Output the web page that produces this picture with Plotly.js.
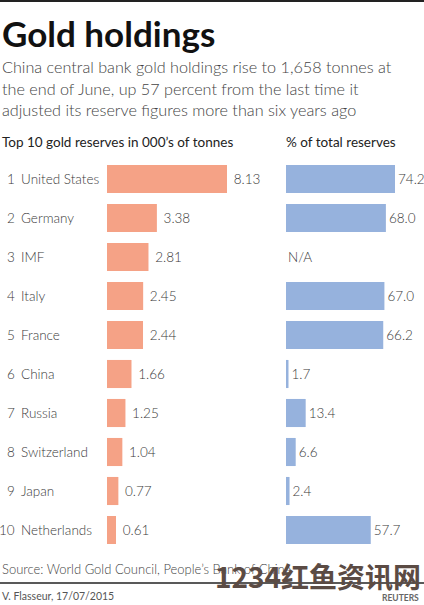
<!DOCTYPE html>
<html><head><meta charset="utf-8">
<script src="https://cdn.plot.ly/plotly-3.0.1.min.js"></script>
<style>body{margin:0;padding:0;background:#fff}#c{width:424px;height:605px}</style>
</head><body><div id="c"></div>
<script>
const ranks = [1,2,3,4,5,6,7,8,9,10];
const countries = ["United States","Germany","IMF","Italy","France","China","Russia","Switzerland","Japan","Netherlands"];
const tonnes = [8.13,3.38,2.81,2.45,2.44,1.66,1.25,1.04,0.77,0.61];
const pctReserves = [74.2,68.0,null,67.0,66.2,1.7,13.4,6.6,2.4,57.7];

const W=424,H=605;
const FONT="Lato";
const px = v => v/W, py = v => 1 - v/H;
const cats = countries.map((c,i)=>ranks[i]+" "+c);
const LBL = {family:FONT,size:13.5,color:'#3a3a3a',weight:300};

const traces = [
 {type:'bar',orientation:'h',y:cats,x:tonnes,xaxis:'x',yaxis:'y',
  marker:{color:'#f5a286'},text:tonnes.map(v=>' '+v.toFixed(2)),textposition:'outside',
  textfont:LBL,cliponaxis:false,hoverinfo:'none'},
 {type:'bar',orientation:'h',y:cats,x:pctReserves,xaxis:'x2',yaxis:'y',
  marker:{color:'#96b2dd'},text:pctReserves.map(v=>v==null?'':v.toFixed(1)),textposition:'outside',
  textfont:LBL,cliponaxis:false,hoverinfo:'none'}
];

const ann = [];
const T = (text,x,y,font,opts)=>Object.assign({text:text,x:x,y:y,xref:'paper',yref:'paper',xanchor:'left',yanchor:'middle',showarrow:false,font:font},opts||{});
ann.push(T('<b>Gold holdings</b>',px(0),py(33),{family:FONT,size:35,color:'#111'}));
const SUB={family:FONT,size:16.2,color:'#444',weight:300};
ann.push(T('China central bank gold holdings rise to 1,658 tonnes at',px(0),py(66),SUB));
ann.push(T('the end of June, up 57 percent from the last time it',px(0),py(88),SUB));
ann.push(T('adjusted its reserve figures more than six years ago',px(0),py(109),SUB));
ann.push(T('Top 10 gold reserves in 000\u2019s of tonnes',px(0),py(142),{family:FONT,size:13.5,color:'#222'}));
ann.push(T('% of total reserves',px(284),py(142),{family:FONT,size:13.5,color:'#222'}));
cats.forEach((c,i)=>{
  ann.push({text:String(ranks[i]),x:px(17),xref:'paper',y:c,yref:'y',xanchor:'right',yanchor:'middle',showarrow:false,font:LBL});
  ann.push({text:countries[i],x:px(19),xref:'paper',y:c,yref:'y',xanchor:'left',yanchor:'middle',showarrow:false,font:LBL});
  if(pctReserves[i]==null) ann.push({text:'N/A',x:0,xref:'x2',y:c,yref:'y',xanchor:'left',yanchor:'middle',showarrow:false,font:LBL});
});
ann.push(T('Source: World Gold Council, People\u2019s Bank of China',px(0),py(569),{family:FONT,size:13,color:'#444',weight:300}));
ann.push(T('V. Flasseur, 17/07/2015',px(0),py(596),{family:FONT,size:10.5,color:'#555'}));
ann.push(T('<b>REUTERS</b>',px(421),py(598),{family:FONT,size:8.5,color:'#666'},{xanchor:'right'}));
ann.push(T('<b>1234红鱼资讯网</b>',px(213),py(576),{family:'Noto Sans CJK SC',size:28,color:'#5b4b44'}));

const yTop=159.5, yBot=549.5;
const layout = {
 width:W,height:H,margin:{l:0,r:0,t:0,b:0},paper_bgcolor:'#fff',plot_bgcolor:'rgba(0,0,0,0)',
 showlegend:false,bargap:0.28,
 xaxis:{domain:[px(107),px(280)],range:[0,(280-107)/(120/8.13)],visible:false,fixedrange:true},
 xaxis2:{domain:[px(286),1],range:[0,(424-286)/(109/74.2)],visible:false,fixedrange:true},
 yaxis:{domain:[py(yBot),py(yTop)],autorange:'reversed',type:'category',visible:false,fixedrange:true},
 annotations:ann,
 shapes:[
  {type:'line',xref:'paper',yref:'paper',x0:0,x1:1,y0:py(1),y1:py(1),line:{color:'#222',width:2}},
  {type:'line',xref:'paper',yref:'paper',x0:0,x1:1,y0:py(583),y1:py(583),line:{color:'#222',width:1.5}}
 ]
};
Plotly.newPlot('c',traces,layout,{staticPlot:true,displayModeBar:false});
</script></body></html>
